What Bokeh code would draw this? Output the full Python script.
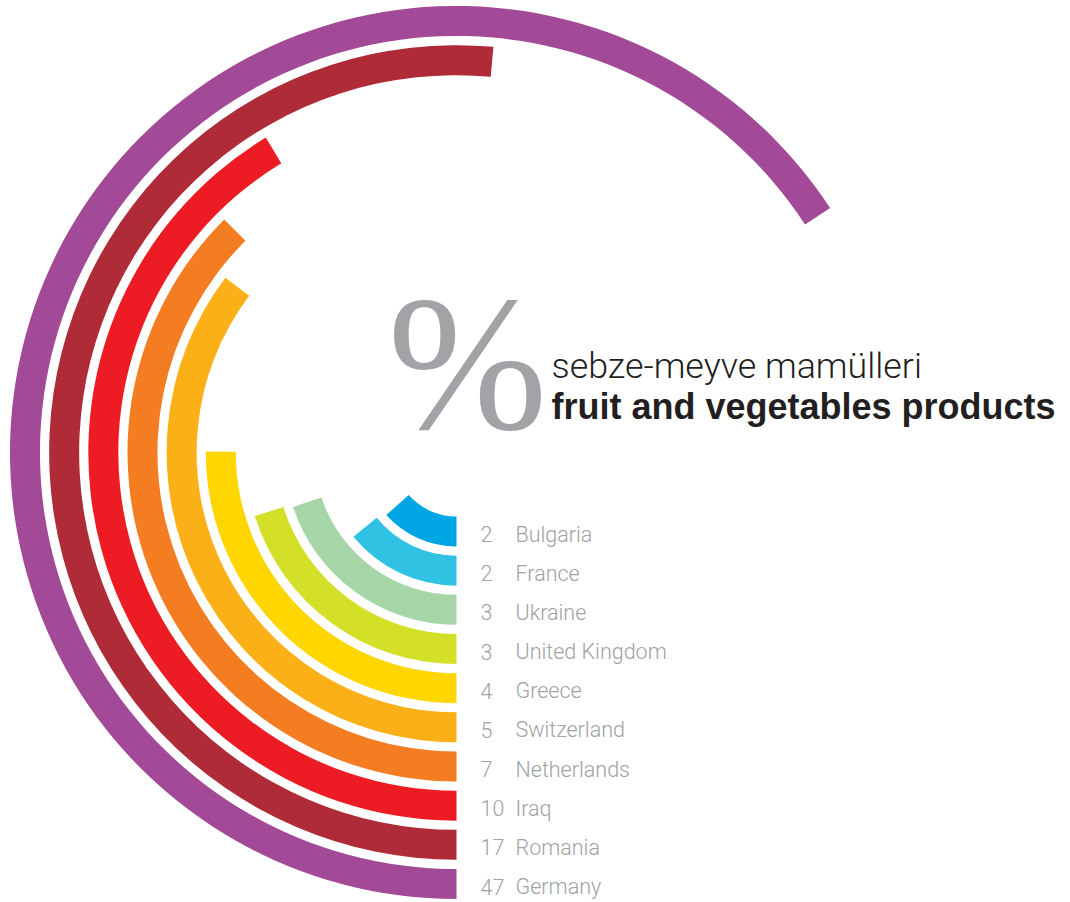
import numpy as np
from bokeh.plotting import figure
from bokeh.models import Range1d, ColumnDataSource, Label
from bokeh.core.properties import value
from bokeh.embed import file_html
from bokeh.resources import INLINE

# ---------------- data ----------------
countries = ["Bulgaria", "France", "Ukraine", "United Kingdom", "Greece",
             "Switzerland", "Netherlands", "Iraq", "Romania", "Germany"]
shares = [2, 2, 3, 3, 4, 5, 7, 10, 17, 47]
# sweep of each arc, degrees, measured clockwise from the 6 o'clock position
arc_sweep_deg = [48.3, 50.7, 71.6, 72.5, 90.2, 127.1, 135.1, 148.8, 185.2, 236.8]
colors = ["#00a6e4", "#30c2e2", "#a6d5a8", "#d4df27", "#ffd600",
          "#fcb018", "#f47c21", "#ed1c24", "#ae2b37", "#a24a97"]

title_tr = "sebze-meyve mamülleri"
title_en = "fruit and vegetables products"

# ---------------- layout ----------------
W, H = 1070, 902
CX, CY = 456, 452          # ring centre (page pixels)
R0, STEP, BAND = 79.0, 39.17, 30.0
SHIFT = 0.35               # em correction for the text baseline

n = len(countries)
idx = np.arange(n)
radius = R0 + STEP * idx
sweep = np.radians(arc_sweep_deg)
start = np.radians(270.0) - sweep
end = np.full(n, np.radians(270.0))

LABEL_FS = 21.5
CAP = 0.711 * LABEL_FS
label_y = -radius - CAP / 2.0 + SHIFT * LABEL_FS - 2.5

src = ColumnDataSource(dict(
    country=countries,
    share=[str(v) for v in shares],
    inner=radius - BAND / 2.0,
    outer=radius + BAND / 2.0,
    start=start, end=end, color=colors,
    ly=label_y,
    nx=np.full(n, 480 - CX),
    cx=np.full(n, 515 - CX),
))

p = figure(width=W, height=H, output_backend="svg", toolbar_location=None,
           x_range=Range1d(-CX, W - CX), y_range=Range1d(CY - H, CY),
           x_axis_location=None, y_axis_location=None,
           min_border=0, outline_line_color=None,
           background_fill_color="white", border_fill_color="white")
p.grid.visible = False

p.annular_wedge(x=0, y=0, inner_radius="inner", outer_radius="outer",
                start_angle="start", end_angle="end", direction="anticlock",
                fill_color="color", line_color=None, source=src)

light = "'Roboto Light', Roboto, 'Liberation Sans', sans-serif"
fs = f"{LABEL_FS:.1f}px"
p.text(x="nx", y="ly", text="share", source=src, text_font=value(light),
       text_font_size=fs, text_color="#a0a2a5", text_align="left",
       text_baseline="alphabetic")
p.text(x="cx", y="ly", text="country", source=src, text_font=value(light),
       text_font_size=fs, text_color="#a0a2a5", text_align="left",
       text_baseline="alphabetic")

# title block
PCT_FS = 192.0
p.add_layout(Label(x=387 - CX, y=CY - (430 - SHIFT * PCT_FS), text="%",
                   text_font="Liberation Serif",
                   text_font_size=f"{PCT_FS:.0f}px", text_color="#a1a3a6",
                   text_baseline="alphabetic", text_align="left"))
T1_FS = 35.8
p.add_layout(Label(x=551 - CX, y=CY - (378 - SHIFT * T1_FS), text=title_tr,
                   text_font=light,
                   text_font_size=f"{T1_FS:.1f}px", text_color="#231f20",
                   text_baseline="alphabetic", text_align="left"))
T2_FS = 36.0
p.add_layout(Label(x=551 - CX, y=CY - (419 - SHIFT * T2_FS), text=title_en,
                   text_font="Liberation Sans", text_font_style="bold",
                   text_font_size=f"{T2_FS:.1f}px", text_color="#231f20",
                   text_baseline="alphabetic", text_align="left"))

open("out.html", "w").write(file_html(p, INLINE))
